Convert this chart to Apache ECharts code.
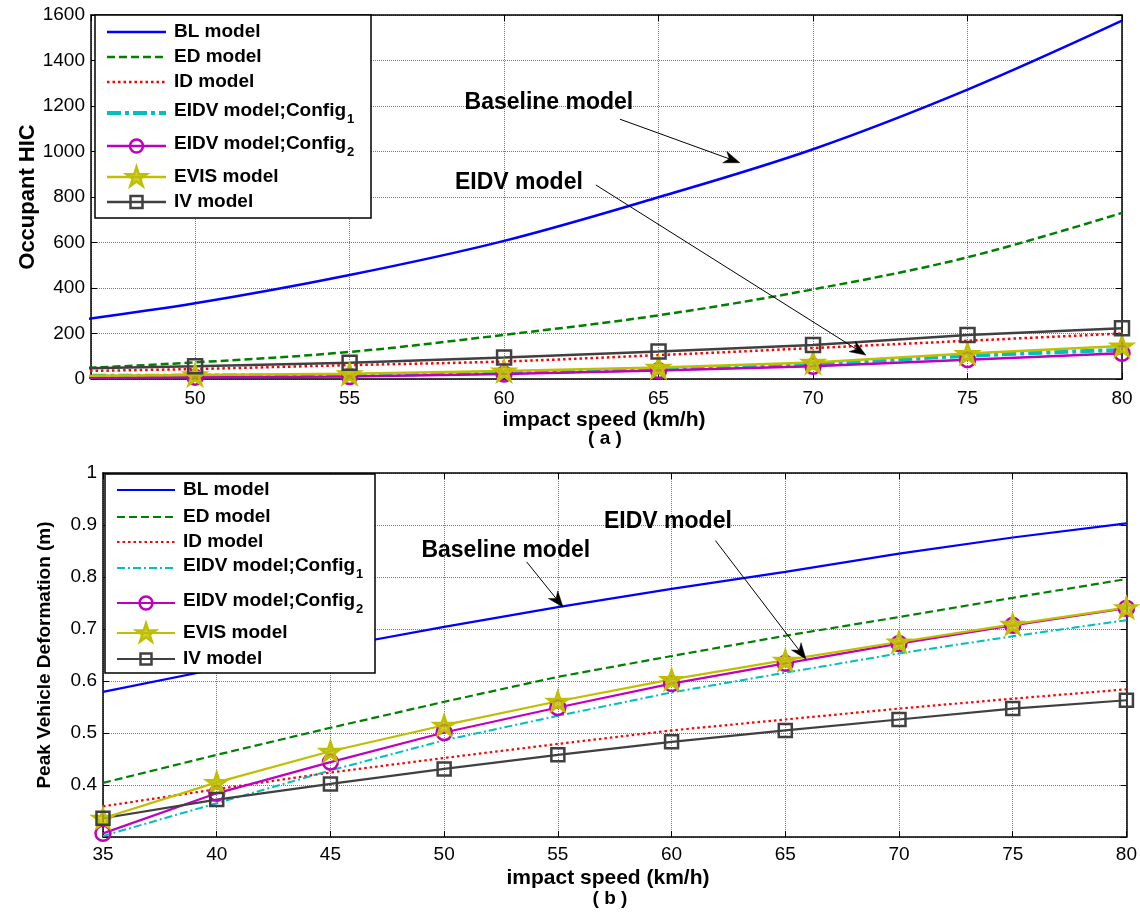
<!DOCTYPE html>
<html><head><meta charset="utf-8">
<script src="https://cdn.jsdelivr.net/npm/echarts@6/dist/echarts.min.js"></script>
<style>html,body{margin:0;padding:0;background:#fff}#c{width:1140px;height:918px}</style>
</head><body><div id="c"></div>
<script>
// ---------- data: panel (a) Occupant HIC ----------
const speedsA = [45, 50, 55, 60, 65, 70, 75, 80];
const hicBL    = [237, 333, 457, 607, 799, 1010, 1272, 1575];
const hicED    = [39, 73, 119, 194, 280, 394, 535, 730];
const hicID    = [32, 44, 61, 77, 105, 136, 168, 200];
const hicEIDV1 = [14, 15, 17, 28, 43, 65, 102, 128];
const hicEIDV2 = [5, 8, 11, 22, 37, 56, 85, 113];
const hicEVIS  = [13, 18, 23, 35, 51, 73, 112, 145];
const hicIV    = [44, 56, 71, 95, 121, 149, 193, 223];

// ---------- data: panel (b) Peak Vehicle Deformation ----------
const speedsB  = [35, 40, 45, 50, 55, 60, 65, 70, 75, 80];
const defBL    = [0.579, 0.623, 0.664, 0.704, 0.742, 0.777, 0.810, 0.845, 0.876, 0.903];
const defED    = [0.404, 0.458, 0.510, 0.560, 0.608, 0.648, 0.687, 0.723, 0.760, 0.796];
const defID    = [0.359, 0.392, 0.424, 0.452, 0.479, 0.505, 0.526, 0.547, 0.566, 0.584];
const defEIDV1 = [0.302, 0.365, 0.428, 0.486, 0.533, 0.578, 0.616, 0.653, 0.686, 0.717];
const defEIDV2 = [0.307, 0.384, 0.444, 0.501, 0.549, 0.595, 0.634, 0.672, 0.707, 0.740];
const defEVIS  = [0.336, 0.405, 0.465, 0.515, 0.561, 0.603, 0.640, 0.675, 0.709, 0.741];
const defIV    = [0.336, 0.372, 0.402, 0.431, 0.458, 0.483, 0.505, 0.526, 0.547, 0.563];

const seriesNames = ['BL model', 'ED model', 'ID model', 'EIDV model;Config', 'EIDV model;Config', 'EVIS model', 'IV model'];
const seriesSubs  = [null, null, null, '1', '2', null, null];
const yTicksA = [0, 1600, 200];
const yTicksB = [0.3, 1, 0.1];

// annotation anchors (data space)
const annotA = {base: {text: [61.45, 1213], from: [63.75, 1142], to: [67.63, 951]},
                eidv: {text: [60.48, 862], from: [62.97, 853], to: [71.71, 105]}};
const annotB = {base: {text: [52.71, 0.851], from: [53.63, 0.829], to: [55.23, 0.742]},
                eidv: {text: [59.84, 0.906], from: [61.93, 0.870], to: [65.91, 0.642]}};

// ---------- styling ----------
function starPath() {
  const pts = [];
  for (let i = 0; i < 10; i++) {
    const r = i % 2 ? 19.1 : 50;
    const a = -Math.PI / 2 + i * Math.PI / 5;
    pts.push((50 + r * Math.cos(a)).toFixed(2) + ',' + (50 + r * Math.sin(a)).toFixed(2));
  }
  return 'path://M' + pts.join('L') + 'Z';
}
const STAR = starPath();
const colors = ['#0000ff', '#008000', '#ff0000', '#00bfbf', '#bf00bf', '#bfbf00', '#404040'];
const stylesA = [
  {width: 2.5},
  {width: 2.5, dash: [8, 4]},
  {width: 2.5, dash: [2.5, 3]},
  {width: 4, dash: [14, 4, 4, 4]},
  {width: 2.5, marker: 'circle', size: 15},
  {width: 2.5, marker: 'star', size: 21},
  {width: 2.5, marker: 'rect', size: 14}
];
const stylesB = [
  {width: 2.2},
  {width: 2.2, dash: [8, 4]},
  {width: 2.2, dash: [2.5, 3]},
  {width: 2, dash: [8, 3, 2, 3]},
  {width: 2.2, marker: 'circle', size: 15},
  {width: 2.2, marker: 'star', size: 20},
  {width: 2.2, marker: 'rect', size: 13}
];
const FONT = '"Liberation Sans", Arial, sans-serif';

function mkSeries(xs, ys, xi, yi, idx, st, smooth) {
  const c = colors[idx];
  const isStar = st.marker === 'star';
  const sym = isStar ? STAR : (st.marker || 'none');
  return {
    name: seriesNames[idx] + (seriesSubs[idx] || ''), type: 'line', xAxisIndex: xi, yAxisIndex: yi,
    data: xs.map((x, i) => [x, ys[i]]),
    symbol: sym, symbolSize: st.size || 0, showSymbol: !!st.marker, symbolKeepAspect: true,
    smooth: st.marker ? false : smooth, clip: true, silent: true, animation: false,
    lineStyle: {color: c, width: st.width, type: st.dash || 'solid'},
    itemStyle: {color: isStar ? 'rgba(191,191,0,0.75)' : 'rgba(0,0,0,0)', borderColor: c, borderWidth: 2.5},
    emphasis: {disabled: true}
  };
}

function xAx(grid, pos, min, max, interval, showLabels, margin) {
  const o = {
    type: 'value', gridIndex: grid, position: pos, min: min, max: max,
    axisLine: {show: true, onZero: false, lineStyle: {color: '#000', width: 1.5}},
    axisTick: {show: true, inside: true, length: 6, lineStyle: {color: '#000', width: 1}},
    splitLine: {show: showLabels, lineStyle: {color: '#7a7a7a', type: 'dotted', width: 1}},
    axisLabel: {show: showLabels, color: '#000', fontFamily: FONT, fontSize: 19, margin: margin,
      formatter: v => Math.abs(v - Math.round(v)) < 1e-6 ? String(Math.round(v)) : ''}
  };
  if (interval) o.interval = interval; else o.splitNumber = 7;
  return o;
}
function yAx(grid, pos, ticks, showLabels, fmt) {
  return {
    type: 'value', gridIndex: grid, position: pos, min: ticks[0], max: ticks[1], interval: ticks[2],
    axisLine: {show: true, onZero: false, lineStyle: {color: '#000', width: 1.5}},
    axisTick: {show: true, inside: true, length: 6, lineStyle: {color: '#000', width: 1}},
    splitLine: {show: showLabels, lineStyle: {color: '#7a7a7a', type: 'dotted', width: 1}},
    axisLabel: {show: showLabels, color: '#000', fontFamily: FONT, fontSize: 19, margin: 6, formatter: fmt}
  };
}

const seriesA = [hicBL, hicED, hicID, hicEIDV1, hicEIDV2, hicEVIS, hicIV]
  .map((ys, i) => mkSeries(speedsA, ys, 0, 0, i, stylesA[i], 0.35));
const seriesB = [defBL, defED, defID, defEIDV1, defEIDV2, defEVIS, defIV]
  .map((ys, i) => mkSeries(speedsB, ys, 2, 2, i, stylesB[i], false));

const chart = echarts.init(document.getElementById('c'), null, {renderer: 'canvas'});
chart.setOption({
  animation: false,
  backgroundColor: '#fff',
  grid: [
    {left: 91, top: 15, width: 1031, height: 364},
    {left: 103, top: 473, width: 1025, height: 364}
  ],
  xAxis: [
    xAx(0, 'bottom', 46.63, 80, null, true, 10),
    xAx(0, 'top', 46.63, 80, null, false, 0),
    xAx(1, 'bottom', 35, 80, 5, true, 8),
    xAx(1, 'top', 35, 80, 5, false, 0)
  ],
  yAxis: [
    yAx(0, 'left', yTicksA, true, v => String(Math.round(v))),
    yAx(0, 'right', yTicksA, false),
    yAx(1, 'left', yTicksB, true, v => v < 0.35 ? '' : String(Math.round(v * 10) / 10)),
    yAx(1, 'right', yTicksB, false)
  ],
  series: seriesA.concat(seriesB)
});

// ---------- overlays: legends, annotations, titles ----------
const measure = document.createElement('canvas').getContext('2d');
function px(xi, yi, p) {
  return [chart.convertToPixel({xAxisIndex: xi}, p[0]), chart.convertToPixel({yAxisIndex: yi}, p[1])];
}
function markerEl(kind, cx, cy, size, color) {
  if (kind === 'circle') return {type: 'circle', shape: {cx: cx, cy: cy, r: size / 2 - 1}, style: {fill: 'none', stroke: color, lineWidth: 2.5}, z: 102};
  if (kind === 'rect') return {type: 'rect', shape: {x: cx - size / 2 + 1, y: cy - size / 2 + 1, width: size - 2, height: size - 2}, style: {fill: 'none', stroke: color, lineWidth: 2.5}, z: 102};
  const pts = [];
  const R = size / 2;
  for (let i = 0; i < 10; i++) {
    const r = i % 2 ? R * 0.382 : R;
    const a = -Math.PI / 2 + i * Math.PI / 5;
    pts.push([cx + r * Math.cos(a), cy + r * Math.sin(a) + R * 0.05]);
  }
  return {type: 'polygon', shape: {points: pts}, style: {fill: 'rgba(191,191,0,0.75)', stroke: color, lineWidth: 2.5}, z: 102};
}
function legendEls(box, rows, styles, x1, x2, tx, fs) {
  const els = [{type: 'rect', shape: {x: box[0], y: box[1], width: box[2], height: box[3]},
    style: {fill: '#fff', stroke: '#000', lineWidth: 1.5}, z: 100}];
  const font = 'bold ' + fs + 'px ' + FONT;
  measure.font = font;
  rows.forEach((y, i) => {
    const st = styles[i];
    els.push({type: 'line', shape: {x1: x1, y1: y, x2: x2, y2: y},
      style: {stroke: colors[i], lineWidth: st.width, lineDash: st.dash || null}, z: 101});
    if (st.marker) els.push(markerEl(st.marker, (x1 + x2) / 2, y, st.size, colors[i]));
    const sub = seriesSubs[i];
    const ty = sub ? y - 2 : y;
    els.push({type: 'text', x: tx, y: ty, style: {text: seriesNames[i], font: font, fill: '#000',
      textAlign: 'left', textVerticalAlign: 'middle'}, z: 103});
    if (sub) {
      const w = measure.measureText(seriesNames[i]).width;
      els.push({type: 'text', x: tx + w + 1, y: ty + 8, style: {text: sub, font: 'bold 13px ' + FONT, fill: '#000',
        textAlign: 'left', textVerticalAlign: 'middle'}, z: 103});
    }
  });
  return els;
}
function arrowEls(p0, p1) {
  const dx = p1[0] - p0[0], dy = p1[1] - p0[1];
  const L = Math.hypot(dx, dy), ux = dx / L, uy = dy / L, nx = -uy, ny = ux;
  const HL = 16, HW = 6;
  const bx = p1[0] - ux * HL, by = p1[1] - uy * HL;
  const nxp = p1[0] - ux * HL * 0.7, nyp = p1[1] - uy * HL * 0.7;
  return [
    {type: 'line', shape: {x1: p0[0], y1: p0[1], x2: nxp, y2: nyp}, style: {stroke: '#000', lineWidth: 1}, z: 90},
    {type: 'polygon', shape: {points: [[p1[0], p1[1]], [bx + nx * HW, by + ny * HW], [nxp, nyp], [bx - nx * HW, by - ny * HW]]},
      style: {fill: '#000', stroke: '#000', lineWidth: 0.5}, z: 91}
  ];
}
function textEl(t, x, y, size, rot) {
  const e = {type: 'text', x: x, y: y, style: {text: t, font: 'bold ' + size + 'px ' + FONT, fill: '#000',
    textAlign: 'center', textVerticalAlign: 'middle'}, z: 95};
  if (rot) e.rotation = rot;
  return e;
}
function annotEls(a, xi, yi) {
  let els = [];
  els.push(textEl('Baseline model', ...px(xi, yi, a.base.text), 23));
  els = els.concat(arrowEls(px(xi, yi, a.base.from), px(xi, yi, a.base.to)));
  els.push(textEl('EIDV model', ...px(xi, yi, a.eidv.text), 23));
  els = els.concat(arrowEls(px(xi, yi, a.eidv.from), px(xi, yi, a.eidv.to)));
  return els;
}

let graphics = [];
graphics = graphics.concat(legendEls([95, 15, 276, 203], [32, 57, 82, 113, 146, 177, 202], stylesA, 107, 166, 174, 19));
graphics = graphics.concat(legendEls([105, 474, 270, 199], [490, 517, 542, 568, 603, 633, 659], stylesB, 117, 175, 183, 19));
graphics = graphics.concat(annotEls(annotA, 0, 0));
graphics = graphics.concat(annotEls(annotB, 2, 2));
graphics.push(textEl('impact speed (km/h)', 604, 420, 21));
graphics.push(textEl('( a )', 605, 439, 19));
graphics.push(textEl('impact speed (km/h)', 608, 878, 21));
graphics.push(textEl('( b )', 610, 899, 19));
graphics.push(textEl('Occupant HIC', 28, 197, 22, Math.PI / 2));
graphics.push(textEl('Peak Vehicle Deformation (m)', 45, 655, 19, Math.PI / 2));

chart.setOption({graphic: {elements: graphics}});
</script>
</body></html>
